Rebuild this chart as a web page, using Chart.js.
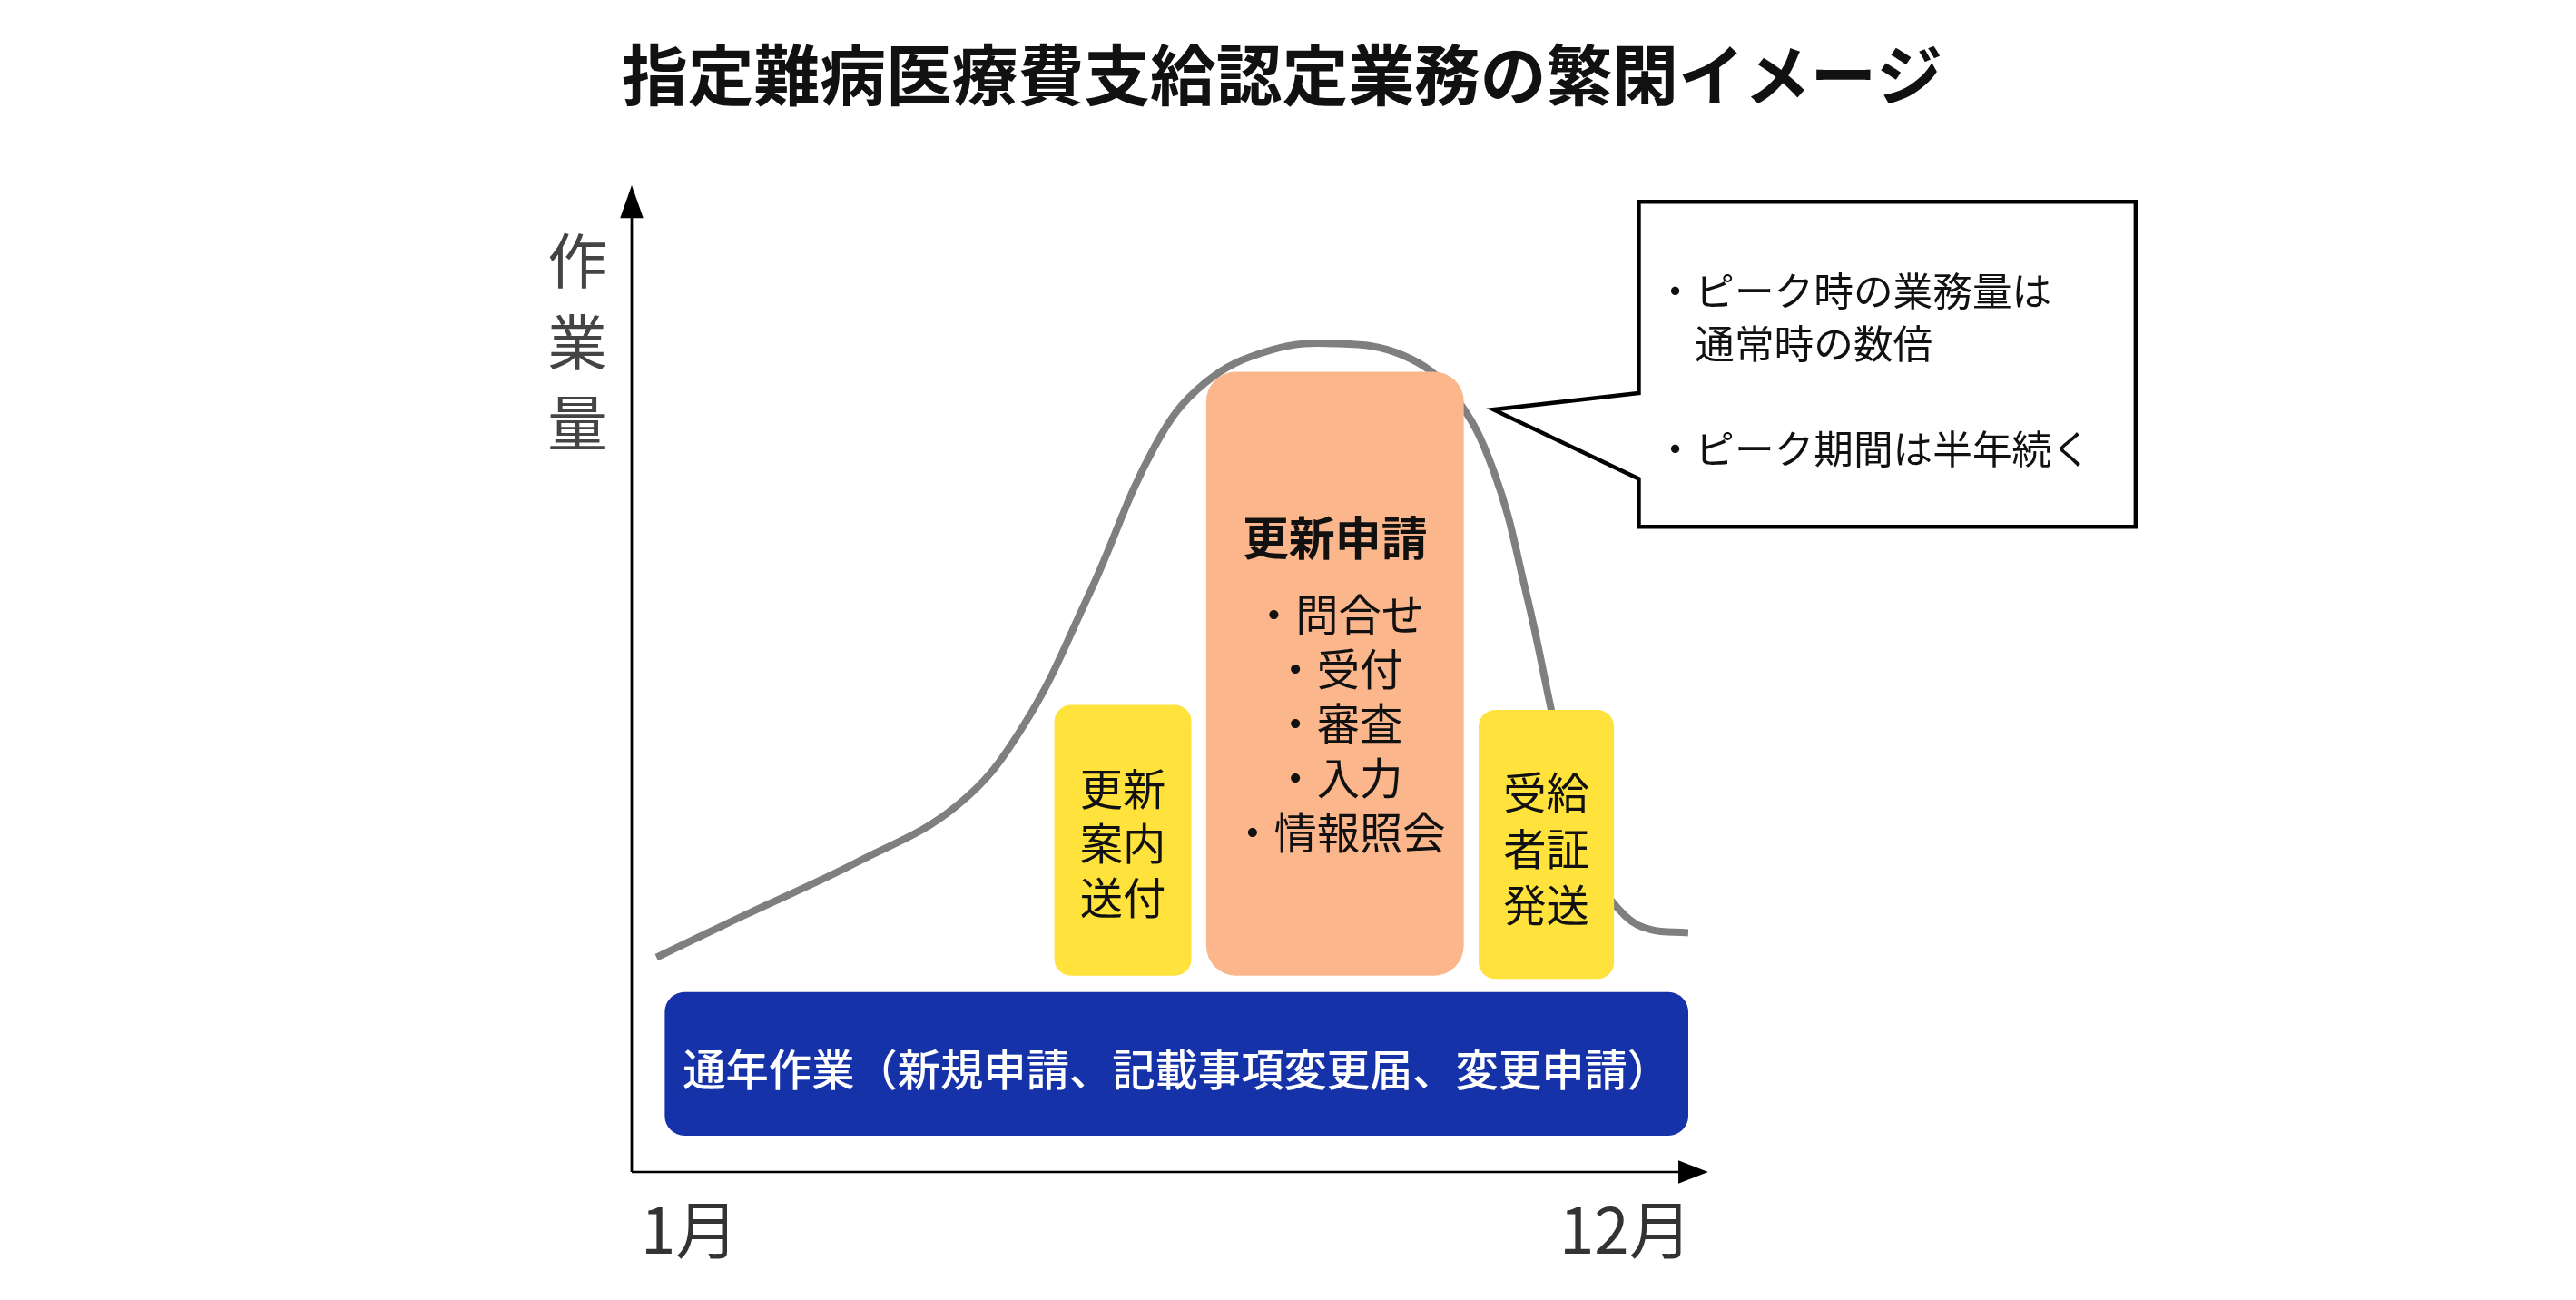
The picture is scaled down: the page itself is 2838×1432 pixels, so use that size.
<!DOCTYPE html>
<html>
<head>
<meta charset="utf-8">
<script src="https://cdn.jsdelivr.net/npm/chart.js@4.4.1/dist/chart.umd.min.js"></script>
<style>
html, body { margin: 0; padding: 0; background: #fff; }
#wrap { width: 2838px; height: 1432px; }
</style>
</head>
<body>
<div id="wrap"><canvas id="c"></canvas></div>
<script>
// Workload curve (arbitrary units, Jan -> Dec)
const curveX = [15, 67, 137, 197, 237, 277, 317, 347, 387, 427, 467, 497, 522, 542, 557, 572, 587, 602, 617, 640];
const curveY = [130, 155, 188, 222, 270, 350, 440, 478, 498, 502, 495, 472, 425, 350, 280, 210, 175, 155, 147, 145];

const titleText = '指定難病医療費支給認定業務の繁閑イメージ';
const yLabel = ['作', '業', '量'];
const xLabels = ['1月', '12月'];

// Boxes: [x0, x1, y0, y1] in chart units
const boxYearRound = [20, 640, 22, 109];
const boxNotice = [256, 339, 119, 283];
const boxRenewal = [348, 504, 119, 485];
const boxSend = [513, 595, 117, 280];
const calloutBox = [610, 911, 391, 588];

const yearRoundText = '通年作業（新規申請、記載事項変更届、変更申請）';
const noticeLines = ['更新', '案内', '送付'];
const sendLines = ['受給', '者証', '発送'];
const renewalTitle = '更新申請';
const renewalLines = ['・問合せ', '・受付', '・審査', '・入力', '・情報照会'];
const calloutLines = ['・ピーク時の業務量は', '　通常時の数倍', '', '・ピーク期間は半年続く'];

const JP = '"Noto Sans CJK JP", "Noto Sans", sans-serif';

const overlay = {
    id: 'overlay',
    afterDatasetsDraw(chart) {
        const ctx = chart.ctx;
        const sx = chart.scales.x, sy = chart.scales.y;
        const X = v => sx.getPixelForValue(v);
        const Y = v => sy.getPixelForValue(v);
        const k = chart.width / 1560;

        function rbox(b, color, r) {
            ctx.fillStyle = color;
            ctx.beginPath();
            ctx.roundRect(X(b[0]), Y(b[3]), X(b[1]) - X(b[0]), Y(b[2]) - Y(b[3]), r * k);
            ctx.fill();
        }
        function text(t, x, y, size, color, weight, align) {
            ctx.fillStyle = color;
            ctx.font = (weight || 'normal') + ' ' + (size * k) + 'px ' + JP;
            ctx.textAlign = align || 'center';
            ctx.textBaseline = 'middle';
            ctx.fillText(t, x, y);
        }

        ctx.save();
        // axes
        ctx.strokeStyle = '#000';
        ctx.lineWidth = 1.5 * k;
        ctx.beginPath();
        ctx.moveTo(X(0), Y(0)); ctx.lineTo(X(0), Y(588));
        ctx.moveTo(X(0), Y(0)); ctx.lineTo(X(640), Y(0));
        ctx.stroke();
        ctx.fillStyle = '#000';
        ctx.beginPath();
        ctx.moveTo(X(0), Y(598)); ctx.lineTo(X(0) - 7 * k, Y(578)); ctx.lineTo(X(0) + 7 * k, Y(578)); ctx.fill();
        ctx.beginPath();
        ctx.moveTo(X(652), Y(0)); ctx.lineTo(X(634), Y(0) - 7 * k); ctx.lineTo(X(634), Y(0) + 7 * k); ctx.fill();

        // boxes
        rbox(boxYearRound, '#1632a8', 12);
        rbox(boxNotice, '#ffe33c', 10);
        rbox(boxRenewal, '#fbb68b', 18);
        rbox(boxSend, '#ffe33c', 10);

        text(yearRoundText, (X(boxYearRound[0]) + X(boxYearRound[1])) / 2, Y(62), 26, '#fff', '500');
        const nx = (X(boxNotice[0]) + X(boxNotice[1])) / 2;
        noticeLines.forEach((t, i) => text(t, nx, Y(232 - i * 33), 26, '#111'));
        const sxm = (X(boxSend[0]) + X(boxSend[1])) / 2;
        sendLines.forEach((t, i) => text(t, sxm, Y(230 - i * 34), 26, '#111'));
        const rx = (X(boxRenewal[0]) + X(boxRenewal[1])) / 2;
        text(renewalTitle, rx, Y(384), 28, '#111', 'bold');
        renewalLines.forEach((t, i) => text(t, rx + 2 * k, Y(338 - i * 33), 26, '#111'));

        // callout
        ctx.fillStyle = '#fff';
        ctx.strokeStyle = '#000';
        ctx.lineWidth = 2.5 * k;
        ctx.beginPath();
        ctx.moveTo(X(calloutBox[0]), Y(calloutBox[3]));
        ctx.lineTo(X(calloutBox[1]), Y(calloutBox[3]));
        ctx.lineTo(X(calloutBox[1]), Y(calloutBox[2]));
        ctx.lineTo(X(calloutBox[0]), Y(calloutBox[2]));
        ctx.lineTo(X(calloutBox[0]), Y(420));
        ctx.lineTo(X(522), Y(462));
        ctx.lineTo(X(calloutBox[0]), Y(472));
        ctx.closePath();
        ctx.fill();
        ctx.stroke();
        calloutLines.forEach((t, i) => { if (t) text(t, X(620), Y(534 - i * 32), 24, '#111', 'normal', 'left'); });

        // labels
        text(titleText, X(394), 45 * k, 40, '#111', 'bold');
        yLabel.forEach((t, i) => text(t, X(-33), Y(552 - i * 49), 36, '#444'));
        text(xLabels[0], X(35), Y(-35), 38, '#333');
        text(xLabels[1], X(602), Y(-35), 38, '#333');
        ctx.restore();
    }
};

new Chart(document.getElementById('c'), {
    type: 'line',
    data: {
        datasets: [{
            data: curveX.map((x, i) => ({ x: x, y: curveY[i] })),
            borderColor: '#7f7f7f',
            borderWidth: 8,
            pointRadius: 0,
            tension: 0.4,
            fill: false
        }]
    },
    options: {
        responsive: true,
        maintainAspectRatio: false,
        animation: false,
        layout: { padding: { left: 696, right: 978, top: 204, bottom: 141 } },
        plugins: { legend: { display: false }, tooltip: { enabled: false } },
        scales: {
            x: { type: 'linear', min: 0, max: 640, display: false },
            y: { min: 0, max: 598, display: false }
        }
    },
    plugins: [overlay]
});
</script>
</body>
</html>
